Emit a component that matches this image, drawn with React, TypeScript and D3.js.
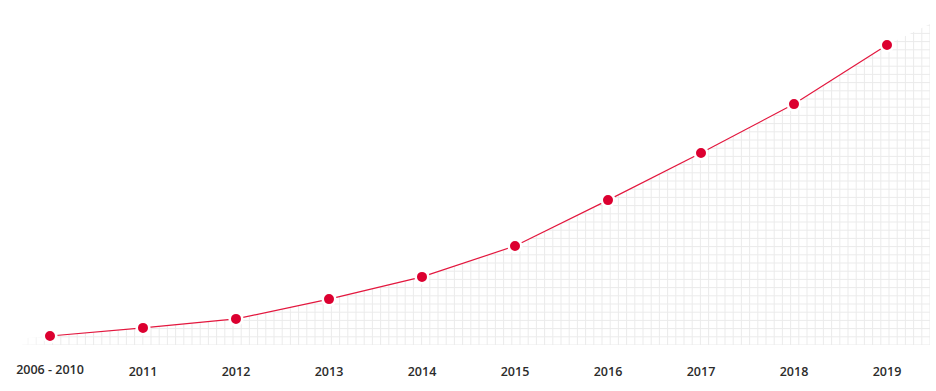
import { useRef, useEffect } from 'react';
import * as d3 from 'd3';

const categories = ['2006 - 2010', '2011', '2012', '2013', '2014', '2015', '2016', '2017', '2018', '2019'];
const values = [3, 5.7, 8.7, 15.3, 22.7, 33, 48.3, 64, 80.3, 100];

const WIDTH = 936;
const HEIGHT = 391;

export default function App() {
  const svgRef = useRef<SVGSVGElement>(null);

  useEffect(() => {
    if (!svgRef.current) return;
    const svg = d3.select(svgRef.current);
    svg.selectAll('*').remove();

    const baseY = 345;
    const rightX = 930;
    const cell = 8.2;

    const x = d3.scalePoint<string>().domain(categories).range([50, 887]);
    const y = d3.scaleLinear().domain([0, 100]).range([baseY, 45]);

    const pts: [number, number][] = categories.map((c, i) => [x(c) as number, y(values[i])]);

    // area outline, stretched a little past the first and last point
    const first = pts[0];
    const areaPts: [number, number][] = [
      [first[0] - 28, y(values[0] - 0.8)],
      ...pts,
      [rightX, y(107)],
    ];

    const defs = svg.append('defs');
    defs.append('clipPath').attr('id', 'under')
      .append('path')
      .attr('d', d3.area<[number, number]>().x(d => d[0]).y0(baseY).y1(d => d[1])(areaPts) ?? '');

    const fade = defs.append('linearGradient').attr('id', 'fadeL')
      .attr('gradientUnits', 'userSpaceOnUse')
      .attr('x1', 0).attr('x2', 60).attr('y1', 0).attr('y2', 0);
    fade.append('stop').attr('offset', 0).attr('stop-color', '#fff').attr('stop-opacity', 0);
    fade.append('stop').attr('offset', 1).attr('stop-color', '#fff').attr('stop-opacity', 1);
    defs.append('mask').attr('id', 'maskL')
      .append('rect').attr('x', 0).attr('y', 0).attr('width', WIDTH).attr('height', HEIGHT)
      .attr('fill', 'url(#fadeL)');

    // grid under the line
    const grid = svg.append('g').attr('clip-path', 'url(#under)').attr('mask', 'url(#maskL)');
    const vx = d3.range(rightX, 0, -cell);
    const hy = d3.range(baseY, 0, -cell);
    grid.selectAll('line.v').data(vx).enter().append('line')
      .attr('x1', d => d).attr('x2', d => d).attr('y1', 0).attr('y2', baseY)
      .attr('stroke', '#ebebeb').attr('stroke-width', 1);
    grid.selectAll('line.h').data(hy).enter().append('line')
      .attr('x1', 0).attr('x2', rightX).attr('y1', d => d).attr('y2', d => d)
      .attr('stroke', '#ebebeb').attr('stroke-width', 1);

    // baseline
    svg.append('line')
      .attr('x1', 0).attr('x2', rightX).attr('y1', baseY).attr('y2', baseY)
      .attr('stroke', '#dedede').attr('stroke-width', 1.2)
      .attr('mask', 'url(#maskL)');

    // line
    svg.append('path')
      .attr('fill', 'none')
      .attr('stroke', '#e3173e')
      .attr('stroke-width', 1.2)
      .attr('d', d3.line<[number, number]>()(pts) ?? '');

    // dots with a white halo
    svg.selectAll('circle.dot').data(pts).enter().append('circle')
      .attr('class', 'dot')
      .attr('cx', d => d[0]).attr('cy', d => d[1])
      .attr('r', 6.3)
      .attr('fill', '#dc0030')
      .attr('stroke', '#fff')
      .attr('stroke-width', 2.6);

    // labels
    svg.selectAll('text.lbl').data(categories).enter().append('text')
      .attr('class', 'lbl')
      .attr('x', d => x(d) as number)
      .attr('y', (_, i) => (i === 0 ? 373.5 : 375.5))
      .attr('text-anchor', 'middle')
      .style('font-family', '"Open Sans", sans-serif')
      .style('font-weight', 600)
      .style('font-size', '12.5px')
      .style('fill', '#2b2b2b')
      .text(d => d);
  }, []);

  return (
    <svg
      ref={svgRef}
      width={WIDTH}
      height={HEIGHT}
      style={{ position: 'absolute', left: 0, top: 0, background: '#fff' }}
    />
  );
}
